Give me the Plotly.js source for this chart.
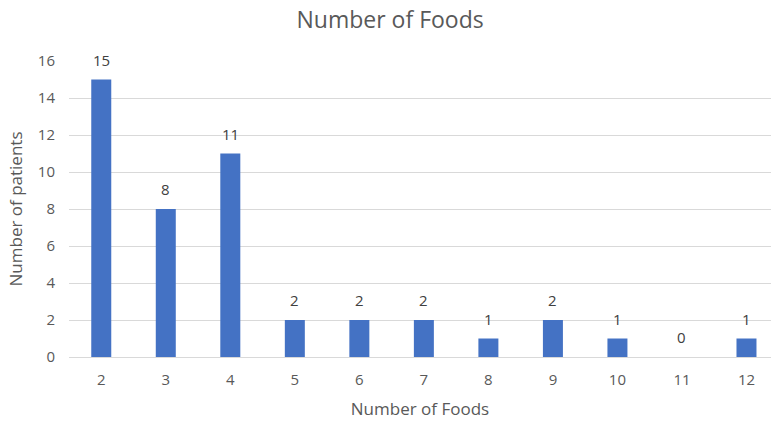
<!DOCTYPE html>
<html><head><meta charset="utf-8">
<script src="https://cdn.plot.ly/plotly-3.0.1.min.js"></script>
<style>html,body{margin:0;padding:0;overflow:hidden;background:#fff}</style>
</head><body><div id="chart" style="width:771px;height:424px"></div>
<script>
const categories = ["2","3","4","5","6","7","8","9","10","11","12"];
const patients = [15, 8, 11, 2, 2, 2, 1, 2, 1, 0, 1];
const yTicks = [0, 2, 4, 6, 8, 10, 12, 14, 16];

const font = "Open Sans, Liberation Sans, sans-serif";
const labels = categories.map((c, i) => ({
  x: i, y: patients[i], xref: "x", yref: "y",
  text: String(patients[i]), showarrow: false,
  yanchor: "bottom", yshift: 8,
  font: {family: font, size: 15, color: "#404040"}
}));

Plotly.newPlot("chart", [{
  type: "bar",
  x: categories,
  y: patients,
  marker: {color: "#4472C4"},
  hoverinfo: "x+y"
}], {
  width: 771, height: 424,
  margin: {l: 69, r: 0, t: 61, b: 67},
  paper_bgcolor: "#fff", plot_bgcolor: "#fff",
  bargap: 0.69,
  showlegend: false,
  annotations: labels,
  title: {text: "Number of Foods", x: 0.506, xanchor: "center", xref: "container",
          yref: "container", y: 0.952, yanchor: "middle",
          font: {family: font, size: 23, color: "#595959"}},
  xaxis: {type: "category", range: [-0.5, 10.38], showgrid: false, zeroline: false,
          showline: false, ticks: "", ticklabelstandoff: 12,
          tickfont: {family: font, size: 15, color: "#595959"},
          title: {text: "Number of Foods", font: {family: font, size: 17, color: "#595959"}, standoff: 15}},
  yaxis: {range: [0, 16], tickvals: yTicks, showgrid: true, gridcolor: "#d9d9d9", gridwidth: 1,
          zeroline: true, zerolinecolor: "#d9d9d9", showline: false, ticks: "",
          tickfont: {family: font, size: 15, color: "#595959"}, ticklabelstandoff: 13,
          title: {text: "Number of patients", font: {family: font, size: 17, color: "#595959"}, standoff: 10}}
}, {displayModeBar: false, staticPlot: true});
</script></body></html>
